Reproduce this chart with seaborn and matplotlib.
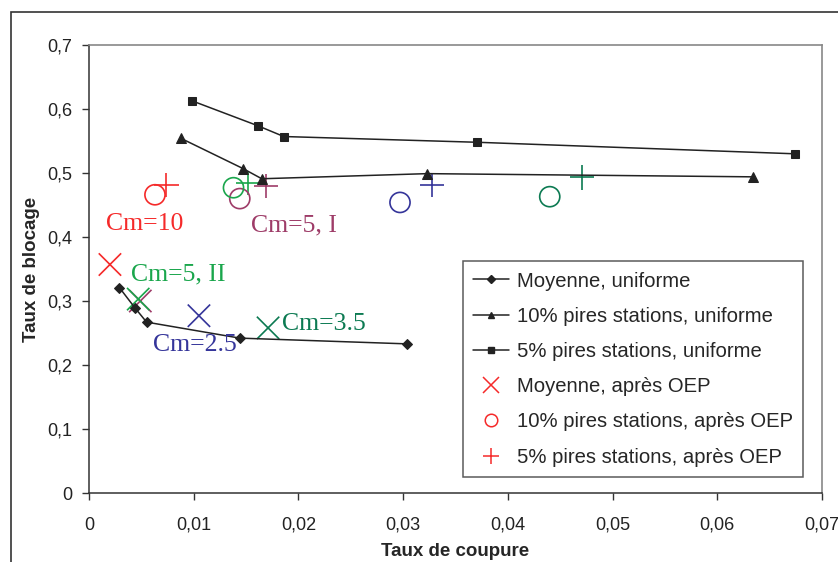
import numpy as np
import pandas as pd
import matplotlib
matplotlib.use("Agg")
import matplotlib.pyplot as plt
from matplotlib.lines import Line2D
from matplotlib.patches import Rectangle
from matplotlib.ticker import FuncFormatter
import seaborn as sns

# uniform allocation curves
moy_x = [0.0029, 0.0044, 0.0055, 0.0144, 0.0304]
moy_y = [0.321, 0.289, 0.267, 0.242, 0.233]
p10_x = [0.0088, 0.0147, 0.0165, 0.0323, 0.0634]
p10_y = [0.554, 0.507, 0.491, 0.499, 0.494]
p5_x = [0.0098, 0.0161, 0.0186, 0.0371, 0.0674]
p5_y = [0.613, 0.574, 0.557, 0.548, 0.530]

# after OEP, one value per Cm setting
cm_names = ["Cm=10", "Cm=5, I", "Cm=5, II", "Cm=2.5", "Cm=3.5"]
oep_moy_x = [0.0020, 0.0049, 0.0047, 0.0105, 0.0171]
oep_moy_y = [0.357, 0.300, 0.303, 0.277, 0.258]
oep_p10_x = [0.0063, 0.0144, 0.0138, 0.0297, 0.0440]
oep_p10_y = [0.466, 0.460, 0.477, 0.454, 0.463]
oep_p5_x = [0.0074, 0.0169, 0.0152, 0.0328, 0.0471]
oep_p5_y = [0.481, 0.479, 0.485, 0.481, 0.493]

cm_colors = ["#F52A2A", "#9E3C68", "#1AA64C", "#35359A", "#0C7A52"]
label_pos = [(0.00535, 0.420), (0.0196, 0.418), (0.0085, 0.341), (0.0101, 0.232), (0.0224, 0.2646)]

series_labels = ["Moyenne, uniforme", "10% pires stations, uniforme", "5% pires stations, uniforme",
                 "Moyenne, après OEP", "10% pires stations, après OEP", "5% pires stations, après OEP"]

sns.set_style("white")
plt.rcParams["font.family"] = ["Liberation Sans", "DejaVu Sans"]

fig = plt.figure(figsize=(8.38, 5.62), dpi=100)
ax = fig.add_axes([89 / 838, 1 - 493 / 562, 733 / 838, 448 / 562])

line_kw = dict(color="#222222", linewidth=1.1, estimator=None, sort=False, legend=False, ax=ax,
               markeredgecolor="#222222")
sns.lineplot(x=moy_x, y=moy_y, marker="D", markersize=5, **line_kw)
sns.lineplot(x=p10_x, y=p10_y, marker="^", markersize=7, **line_kw)
sns.lineplot(x=p5_x, y=p5_y, marker="s", markersize=5.5, **line_kw)

oep = pd.DataFrame({"cm": cm_names,
                    "mx": oep_moy_x, "my": oep_moy_y,
                    "cx": oep_p10_x, "cy": oep_p10_y,
                    "px": oep_p5_x, "py": oep_p5_y})
pal = dict(zip(cm_names, cm_colors))

sns.scatterplot(data=oep, x="mx", y="my", hue="cm", palette=pal, marker="x", s=260,
                linewidth=1.2, legend=False, ax=ax)
sns.scatterplot(data=oep, x="px", y="py", hue="cm", palette=pal, marker="+", s=300,
                linewidth=1.2, legend=False, ax=ax)
sns.scatterplot(data=oep, x="cx", y="cy", hue="cm", palette=pal, marker="o", s=210,
                linewidth=1.2, legend=False, ax=ax)
circ = ax.collections[-1]
circ.set_edgecolors(circ.get_facecolors())
circ.set_facecolors("none")

for name, col, (tx, ty) in zip(cm_names, cm_colors, label_pos):
    ax.text(tx, ty, name, color=col, fontsize=18.5, ha="center", va="center",
            family=["Liberation Serif", "DejaVu Serif"])

ax.set_xlim(0, 0.07)
ax.set_ylim(0, 0.7)
ax.set_xticks(np.arange(0, 0.0701, 0.01))
ax.set_yticks(np.arange(0, 0.701, 0.1))
fmt = FuncFormatter(lambda v, p: ("%g" % round(v, 3)).replace(".", ","))
ax.xaxis.set_major_formatter(fmt)
ax.yaxis.set_major_formatter(fmt)
ax.tick_params(axis="both", direction="out", length=5, width=1, colors="#333333",
               labelsize=13, labelcolor="#222222", pad=7, bottom=True, left=True)
ax.tick_params(axis="x", pad=12)
for side in ["left", "bottom"]:
    ax.spines[side].set_color("#333333")
    ax.spines[side].set_linewidth(1.1)
for side in ["top", "right"]:
    ax.spines[side].set_color("#888888")
    ax.spines[side].set_linewidth(1.2)

ax.set_xlabel("Taux de coupure", fontsize=13.5, fontweight="bold", labelpad=7)
ax.set_ylabel("Taux de blocage", fontsize=13.5, fontweight="bold", labelpad=5)

handles = [
    Line2D([], [], color="#222222", marker="D", markersize=4, linewidth=1.1),
    Line2D([], [], color="#222222", marker="^", markersize=5, linewidth=1.1),
    Line2D([], [], color="#222222", marker="s", markersize=4, linewidth=1.1),
    Line2D([], [], color="#F52A2A", marker="x", markersize=11, linestyle="none", markeredgewidth=1.1),
    Line2D([], [], color="#F52A2A", marker="o", markersize=9, linestyle="none",
           markerfacecolor="none", markeredgewidth=1.1),
    Line2D([], [], color="#F52A2A", marker="+", markersize=12, linestyle="none", markeredgewidth=1.1),
]
leg = ax.legend(handles, series_labels, loc="upper left", bbox_to_anchor=(0.510, 0.517),
                fontsize=14.6, frameon=True, fancybox=False, edgecolor="#333333",
                handlelength=1.8, handletextpad=0.35, labelspacing=0.80, borderpad=0.5,
                borderaxespad=0)
leg.get_frame().set_linewidth(1.1)

fig.patches.append(Rectangle((11 / 838, -0.05), 1.2, 1 - 12 / 562 + 0.05, transform=fig.transFigure,
                             fill=False, edgecolor="#333333", linewidth=1.2, zorder=-1))

fig.savefig("out.png", dpi=100)
